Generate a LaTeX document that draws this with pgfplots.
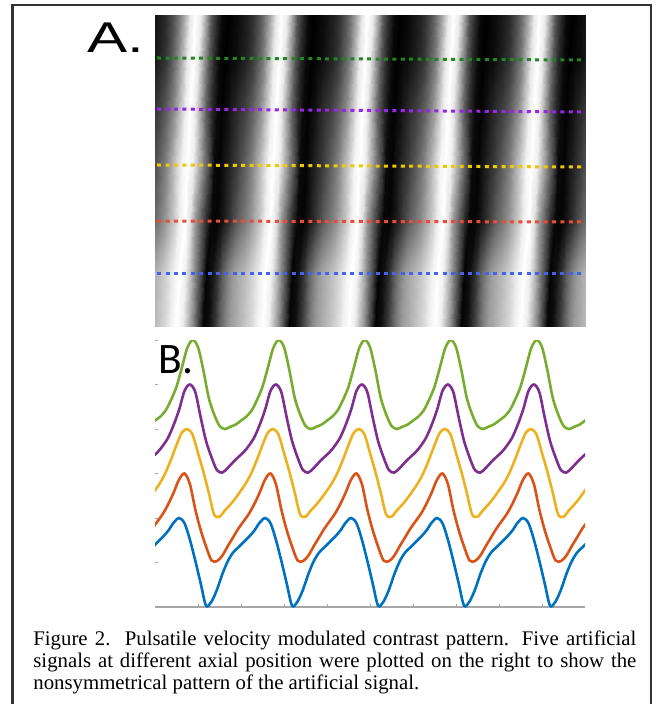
\documentclass[border=0pt]{standalone}
\usepackage{pgfplots}
\pgfplotsset{compat=1.18}
\usepackage{pgfplotstable}
\usepackage{fontspec}
\setmainfont{Liberation Serif}
\newfontfamily\labfont{Liberation Sans}
\newfontfamily\bfont{Carlito}

% MATLAB line colours
\definecolor{mblue}{RGB}{0,114,189}
\definecolor{mred}{RGB}{217,83,25}
\definecolor{myellow}{RGB}{237,177,32}
\definecolor{mpurple}{RGB}{126,47,142}
\definecolor{mgreen}{RGB}{119,172,48}
% dotted lines over the image
\definecolor{dgreen}{RGB}{30,135,30}
\definecolor{dpurple}{RGB}{155,35,235}
\definecolor{dyellow}{RGB}{240,200,0}
\definecolor{dred}{RGB}{240,75,50}
\definecolor{dblue}{RGB}{65,100,240}

% x = time, y = row of the image (0 = bottom edge), v = normalised signal
% rows: bottom edge, blue 53, red 106, yellow 162, purple 218, green 269, top edge
\pgfplotstableread[row sep=\\]{
x y v\\
-0.5 0 -0.27\\ -0.375 0 0.02\\ -0.25 0 0.22\\ -0.125 0 0.34\\ 0 0 0.46\\ 0.125 0 0.58\\ 0.25 0 0.72\\ 0.375 0 0.90\\
0.5 0 1.00\\ 0.625 0 0.88\\ 0.75 0 0.51\\ 0.875 0 0.04\\ 1 0 -0.47\\ 1.125 0 -0.97\\ 1.25 0 -0.88\\ 1.375 0 -0.62\\
1.5 0 -0.27\\ 1.625 0 0.02\\ 1.75 0 0.22\\ 1.875 0 0.34\\ 2 0 0.46\\ 2.125 0 0.58\\ 2.25 0 0.72\\ 2.375 0 0.90\\
2.5 0 1.00\\ 2.625 0 0.88\\ 2.75 0 0.51\\ 2.875 0 0.04\\ 3 0 -0.47\\ 3.125 0 -0.97\\ 3.25 0 -0.88\\ 3.375 0 -0.62\\
3.5 0 -0.27\\ 3.625 0 0.02\\ 3.75 0 0.22\\ 3.875 0 0.34\\ 4 0 0.46\\ 4.125 0 0.58\\ 4.25 0 0.72\\ 4.375 0 0.90\\
4.5 0 1.00\\ 4.625 0 0.88\\ 4.75 0 0.51\\ 4.875 0 0.04\\ 5 0 -0.47\\ 5.125 0 -0.97\\ 5.25 0 -0.88\\ 5.375 0 -0.62\\
5.5 0 -0.27\\ 5.625 0 0.02\\ 5.75 0 0.22\\ 5.875 0 0.34\\ 6 0 0.46\\ 6.125 0 0.58\\ 6.25 0 0.72\\ 6.375 0 0.90\\
6.5 0 1.00\\ 6.625 0 0.88\\ 6.75 0 0.51\\ 6.875 0 0.04\\ 7 0 -0.47\\ 7.125 0 -0.97\\ 7.25 0 -0.88\\ 7.375 0 -0.62\\
7.5 0 -0.27\\ 7.625 0 0.02\\ 7.75 0 0.22\\ 7.875 0 0.34\\ 8 0 0.46\\ 8.125 0 0.58\\ 8.25 0 0.72\\ 8.375 0 0.90\\
8.5 0 1.00\\ 8.625 0 0.88\\ 8.75 0 0.51\\ 8.875 0 0.04\\ 9 0 -0.47\\ 9.125 0 -0.97\\ 9.25 0 -0.88\\ 9.375 0 -0.62\\
9.5 0 -0.27\\ 9.625 0 0.02\\ 9.75 0 0.22\\ 9.875 0 0.34\\ 10 0 0.46\\
-0.4375 53 -0.27\\ -0.3125 53 0.02\\ -0.1875 53 0.22\\ -0.0625 53 0.34\\ 0.0625 53 0.46\\ 0.1875 53 0.58\\ 0.3125 53 0.72\\ 0.4375 53 0.90\\
0.5625 53 1.00\\ 0.6875 53 0.88\\ 0.8125 53 0.51\\ 0.9375 53 0.04\\ 1.0625 53 -0.47\\ 1.1875 53 -0.97\\ 1.3125 53 -0.88\\ 1.4375 53 -0.62\\
1.5625 53 -0.27\\ 1.6875 53 0.02\\ 1.8125 53 0.22\\ 1.9375 53 0.34\\ 2.0625 53 0.46\\ 2.1875 53 0.58\\ 2.3125 53 0.72\\ 2.4375 53 0.90\\
2.5625 53 1.00\\ 2.6875 53 0.88\\ 2.8125 53 0.51\\ 2.9375 53 0.04\\ 3.0625 53 -0.47\\ 3.1875 53 -0.97\\ 3.3125 53 -0.88\\ 3.4375 53 -0.62\\
3.5625 53 -0.27\\ 3.6875 53 0.02\\ 3.8125 53 0.22\\ 3.9375 53 0.34\\ 4.0625 53 0.46\\ 4.1875 53 0.58\\ 4.3125 53 0.72\\ 4.4375 53 0.90\\
4.5625 53 1.00\\ 4.6875 53 0.88\\ 4.8125 53 0.51\\ 4.9375 53 0.04\\ 5.0625 53 -0.47\\ 5.1875 53 -0.97\\ 5.3125 53 -0.88\\ 5.4375 53 -0.62\\
5.5625 53 -0.27\\ 5.6875 53 0.02\\ 5.8125 53 0.22\\ 5.9375 53 0.34\\ 6.0625 53 0.46\\ 6.1875 53 0.58\\ 6.3125 53 0.72\\ 6.4375 53 0.90\\
6.5625 53 1.00\\ 6.6875 53 0.88\\ 6.8125 53 0.51\\ 6.9375 53 0.04\\ 7.0625 53 -0.47\\ 7.1875 53 -0.97\\ 7.3125 53 -0.88\\ 7.4375 53 -0.62\\
7.5625 53 -0.27\\ 7.6875 53 0.02\\ 7.8125 53 0.22\\ 7.9375 53 0.34\\ 8.0625 53 0.46\\ 8.1875 53 0.58\\ 8.3125 53 0.72\\ 8.4375 53 0.90\\
8.5625 53 1.00\\ 8.6875 53 0.88\\ 8.8125 53 0.51\\ 8.9375 53 0.04\\ 9.0625 53 -0.47\\ 9.1875 53 -0.97\\ 9.3125 53 -0.88\\ 9.4375 53 -0.62\\
9.5625 53 -0.27\\ 9.6875 53 0.02\\ 9.8125 53 0.22\\ 9.9375 53 0.34\\ 10.0625 53 0.46\\
-0.3125 106 -0.64\\ -0.1875 106 -0.44\\ -0.0625 106 -0.24\\ 0.0625 106 -0.07\\ 0.1875 106 0.10\\ 0.3125 106 0.32\\ 0.4375 106 0.58\\ 0.5625 106 0.87\\
0.6875 106 1.00\\ 0.8125 106 0.76\\ 0.9375 106 0.19\\ 1.0625 106 -0.27\\ 1.1875 106 -0.64\\ 1.3125 106 -0.95\\ 1.4375 106 -0.97\\ 1.5625 106 -0.85\\
1.6875 106 -0.64\\ 1.8125 106 -0.44\\ 1.9375 106 -0.24\\ 2.0625 106 -0.07\\ 2.1875 106 0.10\\ 2.3125 106 0.32\\ 2.4375 106 0.58\\ 2.5625 106 0.87\\
2.6875 106 1.00\\ 2.8125 106 0.76\\ 2.9375 106 0.19\\ 3.0625 106 -0.27\\ 3.1875 106 -0.64\\ 3.3125 106 -0.95\\ 3.4375 106 -0.97\\ 3.5625 106 -0.85\\
3.6875 106 -0.64\\ 3.8125 106 -0.44\\ 3.9375 106 -0.24\\ 4.0625 106 -0.07\\ 4.1875 106 0.10\\ 4.3125 106 0.32\\ 4.4375 106 0.58\\ 4.5625 106 0.87\\
4.6875 106 1.00\\ 4.8125 106 0.76\\ 4.9375 106 0.19\\ 5.0625 106 -0.27\\ 5.1875 106 -0.64\\ 5.3125 106 -0.95\\ 5.4375 106 -0.97\\ 5.5625 106 -0.85\\
5.6875 106 -0.64\\ 5.8125 106 -0.44\\ 5.9375 106 -0.24\\ 6.0625 106 -0.07\\ 6.1875 106 0.10\\ 6.3125 106 0.32\\ 6.4375 106 0.58\\ 6.5625 106 0.87\\
6.6875 106 1.00\\ 6.8125 106 0.76\\ 6.9375 106 0.19\\ 7.0625 106 -0.27\\ 7.1875 106 -0.64\\ 7.3125 106 -0.95\\ 7.4375 106 -0.97\\ 7.5625 106 -0.85\\
7.6875 106 -0.64\\ 7.8125 106 -0.44\\ 7.9375 106 -0.24\\ 8.0625 106 -0.07\\ 8.1875 106 0.10\\ 8.3125 106 0.32\\ 8.4375 106 0.58\\ 8.5625 106 0.87\\
8.6875 106 1.00\\ 8.8125 106 0.76\\ 8.9375 106 0.19\\ 9.0625 106 -0.27\\ 9.1875 106 -0.64\\ 9.3125 106 -0.95\\ 9.4375 106 -0.97\\ 9.5625 106 -0.85\\
9.6875 106 -0.64\\ 9.8125 106 -0.44\\ 9.9375 106 -0.24\\ 10.0625 106 -0.07\\ 10.1875 106 0.10\\
-0.25 162 -0.70\\ -0.125 162 -0.55\\ 0 162 -0.38\\ 0.125 162 -0.20\\ 0.25 162 0.03\\ 0.375 162 0.32\\ 0.5 162 0.64\\ 0.625 162 0.92\\
0.75 162 1.00\\ 0.875 162 0.87\\ 1 162 0.46\\ 1.125 162 0.04\\ 1.25 162 -0.43\\ 1.375 162 -0.92\\ 1.5 162 -0.97\\ 1.625 162 -0.83\\
1.75 162 -0.70\\ 1.875 162 -0.55\\ 2 162 -0.38\\ 2.125 162 -0.20\\ 2.25 162 0.03\\ 2.375 162 0.32\\ 2.5 162 0.64\\ 2.625 162 0.92\\
2.75 162 1.00\\ 2.875 162 0.87\\ 3 162 0.46\\ 3.125 162 0.04\\ 3.25 162 -0.43\\ 3.375 162 -0.92\\ 3.5 162 -0.97\\ 3.625 162 -0.83\\
3.75 162 -0.70\\ 3.875 162 -0.55\\ 4 162 -0.38\\ 4.125 162 -0.20\\ 4.25 162 0.03\\ 4.375 162 0.32\\ 4.5 162 0.64\\ 4.625 162 0.92\\
4.75 162 1.00\\ 4.875 162 0.87\\ 5 162 0.46\\ 5.125 162 0.04\\ 5.25 162 -0.43\\ 5.375 162 -0.92\\ 5.5 162 -0.97\\ 5.625 162 -0.83\\
5.75 162 -0.70\\ 5.875 162 -0.55\\ 6 162 -0.38\\ 6.125 162 -0.20\\ 6.25 162 0.03\\ 6.375 162 0.32\\ 6.5 162 0.64\\ 6.625 162 0.92\\
6.75 162 1.00\\ 6.875 162 0.87\\ 7 162 0.46\\ 7.125 162 0.04\\ 7.25 162 -0.43\\ 7.375 162 -0.92\\ 7.5 162 -0.97\\ 7.625 162 -0.83\\
7.75 162 -0.70\\ 7.875 162 -0.55\\ 8 162 -0.38\\ 8.125 162 -0.20\\ 8.25 162 0.03\\ 8.375 162 0.32\\ 8.5 162 0.64\\ 8.625 162 0.92\\
8.75 162 1.00\\ 8.875 162 0.87\\ 9 162 0.46\\ 9.125 162 0.04\\ 9.25 162 -0.43\\ 9.375 162 -0.92\\ 9.5 162 -0.97\\ 9.625 162 -0.83\\
9.75 162 -0.70\\ 9.875 162 -0.55\\ 10 162 -0.38\\ 10.125 162 -0.20\\ 10.25 162 0.03\\
-0.1875 218 -0.75\\ -0.0625 218 -0.63\\ 0.0625 218 -0.52\\ 0.1875 218 -0.37\\ 0.3125 218 -0.18\\ 0.4375 218 0.10\\ 0.5625 218 0.44\\ 0.6875 218 0.86\\
0.8125 218 1.00\\ 0.9375 218 0.83\\ 1.0625 218 0.26\\ 1.1875 218 -0.27\\ 1.3125 218 -0.63\\ 1.4375 218 -0.92\\ 1.5625 218 -0.98\\ 1.6875 218 -0.88\\
1.8125 218 -0.75\\ 1.9375 218 -0.63\\ 2.0625 218 -0.52\\ 2.1875 218 -0.37\\ 2.3125 218 -0.18\\ 2.4375 218 0.10\\ 2.5625 218 0.44\\ 2.6875 218 0.86\\
2.8125 218 1.00\\ 2.9375 218 0.83\\ 3.0625 218 0.26\\ 3.1875 218 -0.27\\ 3.3125 218 -0.63\\ 3.4375 218 -0.92\\ 3.5625 218 -0.98\\ 3.6875 218 -0.88\\
3.8125 218 -0.75\\ 3.9375 218 -0.63\\ 4.0625 218 -0.52\\ 4.1875 218 -0.37\\ 4.3125 218 -0.18\\ 4.4375 218 0.10\\ 4.5625 218 0.44\\ 4.6875 218 0.86\\
4.8125 218 1.00\\ 4.9375 218 0.83\\ 5.0625 218 0.26\\ 5.1875 218 -0.27\\ 5.3125 218 -0.63\\ 5.4375 218 -0.92\\ 5.5625 218 -0.98\\ 5.6875 218 -0.88\\
5.8125 218 -0.75\\ 5.9375 218 -0.63\\ 6.0625 218 -0.52\\ 6.1875 218 -0.37\\ 6.3125 218 -0.18\\ 6.4375 218 0.10\\ 6.5625 218 0.44\\ 6.6875 218 0.86\\
6.8125 218 1.00\\ 6.9375 218 0.83\\ 7.0625 218 0.26\\ 7.1875 218 -0.27\\ 7.3125 218 -0.63\\ 7.4375 218 -0.92\\ 7.5625 218 -0.98\\ 7.6875 218 -0.88\\
7.8125 218 -0.75\\ 7.9375 218 -0.63\\ 8.0625 218 -0.52\\ 8.1875 218 -0.37\\ 8.3125 218 -0.18\\ 8.4375 218 0.10\\ 8.5625 218 0.44\\ 8.6875 218 0.86\\
8.8125 218 1.00\\ 8.9375 218 0.83\\ 9.0625 218 0.26\\ 9.1875 218 -0.27\\ 9.3125 218 -0.63\\ 9.4375 218 -0.92\\ 9.5625 218 -0.98\\ 9.6875 218 -0.88\\
9.8125 218 -0.75\\ 9.9375 218 -0.63\\ 10.0625 218 -0.52\\ 10.1875 218 -0.37\\ 10.3125 218 -0.18\\
-0.125 269 -0.90\\ 0 269 -0.81\\ 0.125 269 -0.72\\ 0.25 269 -0.58\\ 0.375 269 -0.34\\ 0.5 269 -0.05\\ 0.625 269 0.38\\ 0.75 269 0.82\\
0.875 269 1.00\\ 1 269 0.84\\ 1.125 269 0.32\\ 1.25 269 -0.30\\ 1.375 269 -0.67\\ 1.5 269 -0.93\\ 1.625 269 -1.00\\ 1.75 269 -0.95\\
1.875 269 -0.90\\ 2 269 -0.81\\ 2.125 269 -0.72\\ 2.25 269 -0.58\\ 2.375 269 -0.34\\ 2.5 269 -0.05\\ 2.625 269 0.38\\ 2.75 269 0.82\\
2.875 269 1.00\\ 3 269 0.84\\ 3.125 269 0.32\\ 3.25 269 -0.30\\ 3.375 269 -0.67\\ 3.5 269 -0.93\\ 3.625 269 -1.00\\ 3.75 269 -0.95\\
3.875 269 -0.90\\ 4 269 -0.81\\ 4.125 269 -0.72\\ 4.25 269 -0.58\\ 4.375 269 -0.34\\ 4.5 269 -0.05\\ 4.625 269 0.38\\ 4.75 269 0.82\\
4.875 269 1.00\\ 5 269 0.84\\ 5.125 269 0.32\\ 5.25 269 -0.30\\ 5.375 269 -0.67\\ 5.5 269 -0.93\\ 5.625 269 -1.00\\ 5.75 269 -0.95\\
5.875 269 -0.90\\ 6 269 -0.81\\ 6.125 269 -0.72\\ 6.25 269 -0.58\\ 6.375 269 -0.34\\ 6.5 269 -0.05\\ 6.625 269 0.38\\ 6.75 269 0.82\\
6.875 269 1.00\\ 7 269 0.84\\ 7.125 269 0.32\\ 7.25 269 -0.30\\ 7.375 269 -0.67\\ 7.5 269 -0.93\\ 7.625 269 -1.00\\ 7.75 269 -0.95\\
7.875 269 -0.90\\ 8 269 -0.81\\ 8.125 269 -0.72\\ 8.25 269 -0.58\\ 8.375 269 -0.34\\ 8.5 269 -0.05\\ 8.625 269 0.38\\ 8.75 269 0.82\\
8.875 269 1.00\\ 9 269 0.84\\ 9.125 269 0.32\\ 9.25 269 -0.30\\ 9.375 269 -0.67\\ 9.5 269 -0.93\\ 9.625 269 -1.00\\ 9.75 269 -0.95\\
9.875 269 -0.90\\ 10 269 -0.81\\ 10.125 269 -0.72\\ 10.25 269 -0.58\\ 10.375 269 -0.34\\
-0.0625 312 -0.90\\ 0.0625 312 -0.81\\ 0.1875 312 -0.72\\ 0.3125 312 -0.58\\ 0.4375 312 -0.34\\ 0.5625 312 -0.05\\ 0.6875 312 0.38\\ 0.8125 312 0.82\\
0.9375 312 1.00\\ 1.0625 312 0.84\\ 1.1875 312 0.32\\ 1.3125 312 -0.30\\ 1.4375 312 -0.67\\ 1.5625 312 -0.93\\ 1.6875 312 -1.00\\ 1.8125 312 -0.95\\
1.9375 312 -0.90\\ 2.0625 312 -0.81\\ 2.1875 312 -0.72\\ 2.3125 312 -0.58\\ 2.4375 312 -0.34\\ 2.5625 312 -0.05\\ 2.6875 312 0.38\\ 2.8125 312 0.82\\
2.9375 312 1.00\\ 3.0625 312 0.84\\ 3.1875 312 0.32\\ 3.3125 312 -0.30\\ 3.4375 312 -0.67\\ 3.5625 312 -0.93\\ 3.6875 312 -1.00\\ 3.8125 312 -0.95\\
3.9375 312 -0.90\\ 4.0625 312 -0.81\\ 4.1875 312 -0.72\\ 4.3125 312 -0.58\\ 4.4375 312 -0.34\\ 4.5625 312 -0.05\\ 4.6875 312 0.38\\ 4.8125 312 0.82\\
4.9375 312 1.00\\ 5.0625 312 0.84\\ 5.1875 312 0.32\\ 5.3125 312 -0.30\\ 5.4375 312 -0.67\\ 5.5625 312 -0.93\\ 5.6875 312 -1.00\\ 5.8125 312 -0.95\\
5.9375 312 -0.90\\ 6.0625 312 -0.81\\ 6.1875 312 -0.72\\ 6.3125 312 -0.58\\ 6.4375 312 -0.34\\ 6.5625 312 -0.05\\ 6.6875 312 0.38\\ 6.8125 312 0.82\\
6.9375 312 1.00\\ 7.0625 312 0.84\\ 7.1875 312 0.32\\ 7.3125 312 -0.30\\ 7.4375 312 -0.67\\ 7.5625 312 -0.93\\ 7.6875 312 -1.00\\ 7.8125 312 -0.95\\
7.9375 312 -0.90\\ 8.0625 312 -0.81\\ 8.1875 312 -0.72\\ 8.3125 312 -0.58\\ 8.4375 312 -0.34\\ 8.5625 312 -0.05\\ 8.6875 312 0.38\\ 8.8125 312 0.82\\
8.9375 312 1.00\\ 9.0625 312 0.84\\ 9.1875 312 0.32\\ 9.3125 312 -0.30\\ 9.4375 312 -0.67\\ 9.5625 312 -0.93\\ 9.6875 312 -1.00\\ 9.8125 312 -0.95\\
9.9375 312 -0.90\\ 10.0625 312 -0.81\\ 10.1875 312 -0.72\\ 10.3125 312 -0.58\\ 10.4375 312 -0.34\\
}\img

\begin{document}
\begin{tikzpicture}
\path[use as bounding box] (0pt,0pt) rectangle (327.5pt,-352pt);

% A. intensity image with the five sampling lines
\begin{axis}[
    at={(77.5pt,-163.5pt)}, anchor=south west,
    scale only axis, width=215pt, height=156pt,
    view={0}{90}, hide axis,
    xmin=0, xmax=10, ymin=0, ymax=312, zmin=-1, zmax=1,
    colormap/blackwhite, point meta min=-1, point meta max=1,
    no marks,
    every axis plot/.append style={line width=1.5pt, dash pattern=on 2pt off 2.2pt},
]
    \addplot3[surf, shader=interp, mesh/rows=7, mesh/cols=85, point meta=explicit, solid]
        table[x=x, y=y, z expr=0, meta=v] {\img};
    \addplot3[draw=dgreen] coordinates {(0.05,269,0) (10,267,0)};
    \addplot3[draw=dpurple] coordinates {(0.05,218,0) (10,215,0)};
    \addplot3[draw=dyellow] coordinates {(0.05,162,0) (10,160,0)};
    \addplot3[draw=dred] coordinates {(0.05,106,0) (10,105,0)};
    \addplot3[draw=dblue] coordinates {(0.05,53,0) (10,53,0)};
\end{axis}

% B. the five signals, stacked
\begin{axis}[
    at={(77.5pt,-303.5pt)}, anchor=south west,
    scale only axis, width=215pt, height=133.5pt,
    xmin=0, xmax=10, ymin=0, ymax=6,
    axis x line*=bottom, axis y line*=left,
    axis line style={-},
    x axis line style={draw=gray!70, line width=0.6pt},
    y axis line style={draw=none},
    xtick={1,...,9}, ytick={1,...,6},
    xticklabels={}, yticklabels={},
    tick align=inside, major tick length=1.6pt,
    tick style={draw=gray!70, line width=0.5pt},
    no marks,
    every axis plot/.append style={line width=1.3pt, smooth},
]
    \addplot[mblue, restrict expr to domain={\thisrow{y}}{50:56}] table[x=x, y expr=\thisrow{v}+1] {\img};
    \addplot[mred, restrict expr to domain={\thisrow{y}}{100:110}] table[x=x, y expr=\thisrow{v}+2] {\img};
    \addplot[myellow, restrict expr to domain={\thisrow{y}}{158:166}] table[x=x, y expr=\thisrow{v}+3] {\img};
    \addplot[mpurple, restrict expr to domain={\thisrow{y}}{214:222}] table[x=x, y expr=\thisrow{v}+4] {\img};
    \addplot[mgreen, restrict expr to domain={\thisrow{y}}{265:273}] table[x=x, y expr=\thisrow{v}+5] {\img};
\end{axis}

\begin{scope}[x=0.5pt, y=-0.5pt]
    \draw[line width=1.1pt, black!80] (12.5,704) -- (12.5,5) -- (651,5) -- (651,704);
    \node[anchor=base west, inner sep=0pt, xscale=1.4,
          font=\labfont\fontsize{21.5pt}{24pt}\selectfont] at (87,53) {A.};
    \node[anchor=base west, inner sep=0pt,
          font=\bfont\fontsize{21.75pt}{24pt}\selectfont] at (158,373) {B.};
    \node[anchor=base west, inner sep=0pt, font=\fontsize{10.4pt}{11pt}\selectfont] at (33,645)
        {\makebox[301.5pt][s]{Figure 2.\ \ Pulsatile velocity modulated contrast pattern. Five artificial}};
    \node[anchor=base west, inner sep=0pt, font=\fontsize{10.4pt}{11pt}\selectfont] at (33,667)
        {\makebox[301.5pt][s]{signals at different axial position were plotted on the right to show the}};
    \node[anchor=base west, inner sep=0pt, font=\fontsize{10.4pt}{11pt}\selectfont] at (33,689)
        {nonsymmetrical pattern of the artificial signal.};
\end{scope}
\end{tikzpicture}
\end{document}
